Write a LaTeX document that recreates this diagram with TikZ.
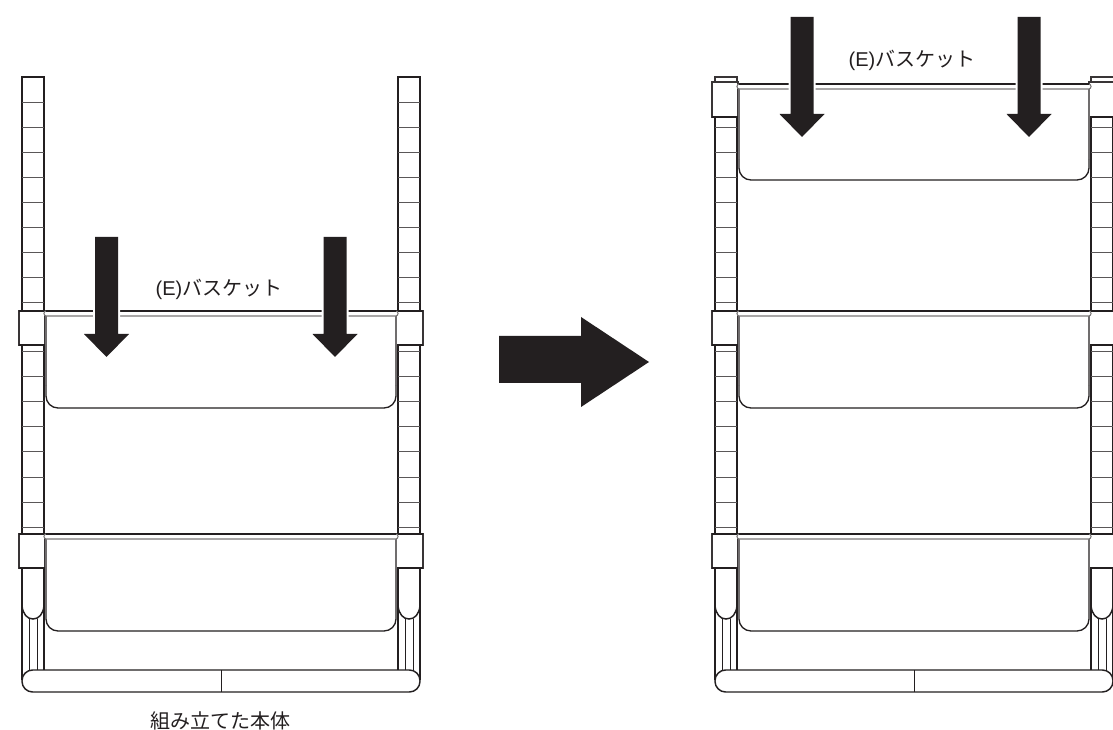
\documentclass[tikz,border=0pt]{standalone}
\usepackage{fontspec}
\setmainfont{Noto Sans CJK JP}
\newfontfamily\latinfont{Liberation Sans}
\definecolor{inkdark}{HTML}{231F20}
\tikzset{
	frameline/.style={draw=inkdark, line width=1.1pt},
	rungline/.style={draw=inkdark!75, line width=0.75pt},
	thinline/.style={draw=inkdark, line width=0.6pt},
	clampbox/.style={draw=inkdark!90, line width=0.8pt, fill=white},
	clampedge/.style={draw=inkdark, line width=1.1pt},
	rimbox/.style={draw=inkdark!60, line width=0.8pt, fill=white, rounded corners=1.8pt},
	rimedge/.style={draw=inkdark, line width=0.9pt},
	basketline/.style={draw=inkdark, line width=1pt, rounded corners=9pt},
	basketside/.style={draw=inkdark!65, line width=0.8pt},
	droparrow/.style={fill=inkdark, preaction={draw=white, line width=3pt}},
	labeltext/.style={font=\fontsize{15}{18}\selectfont, text=inkdark, inner sep=0pt}
}
\begin{document}
\begin{tikzpicture}[x=0.75pt, y=-0.75pt]
	\clip (0,0) rectangle (1113,730);
	\path[fill=white] (0,0) rectangle (1113,730);

	% frame, left and right
	\foreach \dx/\top in {0/77, 693/117} {
		\begin{scope}[shift={(\dx,0)}]
			\draw[frameline] (22,\top) rectangle (44,311);
			\draw[frameline] (398,\top) rectangle (420,311);
			\draw[frameline] (22,345) -- (22,680);
			\draw[frameline] (44,345) -- (44,670);
			\draw[frameline] (398,345) -- (398,670);
			\draw[frameline] (420,345) -- (420,680);
			\foreach \ry in {103,128,153,178,203,228,253,278,303,352,377,402,427,452,477,502,527} {
				\ifnum\ry>\top
					\draw[rungline] (22,\ry) -- (44,\ry);
					\draw[rungline] (398,\ry) -- (420,\ry);
				\fi
			}
			% feet
			\draw[frameline] (22,606) .. controls (23,614) and (27,619) .. (33,619) .. controls (39,619) and (43,614) .. (44,606);
			\draw[frameline] (398,606) .. controls (399,614) and (403,619) .. (409,619) .. controls (415,619) and (419,614) .. (420,606);
			\draw[thinline] (29,619) -- (29,670);
			\draw[thinline] (37,619) -- (37,670);
			\draw[thinline] (405,619) -- (405,670);
			\draw[thinline] (413,619) -- (413,670);
			\draw[frameline, rounded corners=8pt, fill=white] (22,670) rectangle (420,692);
			\draw[thinline] (221,670) -- (221,692);
			% clamps
			\foreach \cy in {311,534} {
				\draw[clampbox] (19,\cy) rectangle (45,\cy+34);
				\draw[clampbox] (396,\cy) rectangle (423,\cy+34);
				\draw[clampedge] (19,\cy+34) -- (45,\cy+34);
				\draw[clampedge] (396,\cy+34) -- (423,\cy+34);
				\draw[clampedge] (19,\cy) -- (45,\cy);
				\draw[clampedge] (396,\cy) -- (423,\cy);
			}
			% baskets
			\foreach \cy in {311,534} {
				\draw[basketside] (46,\cy+5) -- (46,\cy+75);
				\draw[basketside] (396,\cy+5) -- (396,\cy+75);
				\draw[basketline] (46,\cy+75) -- (46,\cy+97) -- (396,\cy+97) -- (396,\cy+75);
				\draw[rimbox] (44,\cy) rectangle (398,\cy+5);
				\draw[rimedge] (46,\cy) -- (396,\cy);
			}
		\end{scope}
	}

	% top basket, right only
	\draw[clampbox] (715,77) rectangle (737,82);
	\draw[clampbox] (1091,77) rectangle (1116,82);
	\draw[clampbox] (712,82) rectangle (738,117);
	\draw[clampbox] (1089,82) rectangle (1116,117);
	\draw[clampedge] (712,117) -- (738,117);
	\draw[clampedge] (1089,117) -- (1116,117);
	\draw[basketside] (739,89) -- (739,160);
	\draw[basketside] (1089,89) -- (1089,160);
	\draw[basketline] (739,160) -- (739,180) -- (1089,180) -- (1089,160);
	\draw[rimbox] (737,84) rectangle (1091,89);
	\draw[rimedge] (739,84) -- (1089,84);

	% arrows
	\foreach \ax/\ay in {106.5/237, 335/237, 802/17, 1029/17} {
		\path[droparrow] (\ax-11.5,\ay) -- (\ax+11.5,\ay) -- (\ax+11.5,\ay+97) -- (\ax+22.5,\ay+97)
			-- (\ax,\ay+120) -- (\ax-22.5,\ay+97) -- (\ax-11.5,\ay+97) -- cycle;
	}
	\fill[inkdark] (499,336) -- (581,336) -- (581,317) -- (649,362) -- (581,407) -- (581,383) -- (499,383) -- cycle;

	\node[labeltext] (leftlabel) at (219,289.5) {{\latinfont (E)}バスケット};
	\node[labeltext] (rightlabel) at (912,60.5) {{\latinfont (E)}バスケット};
	\node[labeltext] (caption) at (220,721) {組み立てた本体};
\end{tikzpicture}
\end{document}
